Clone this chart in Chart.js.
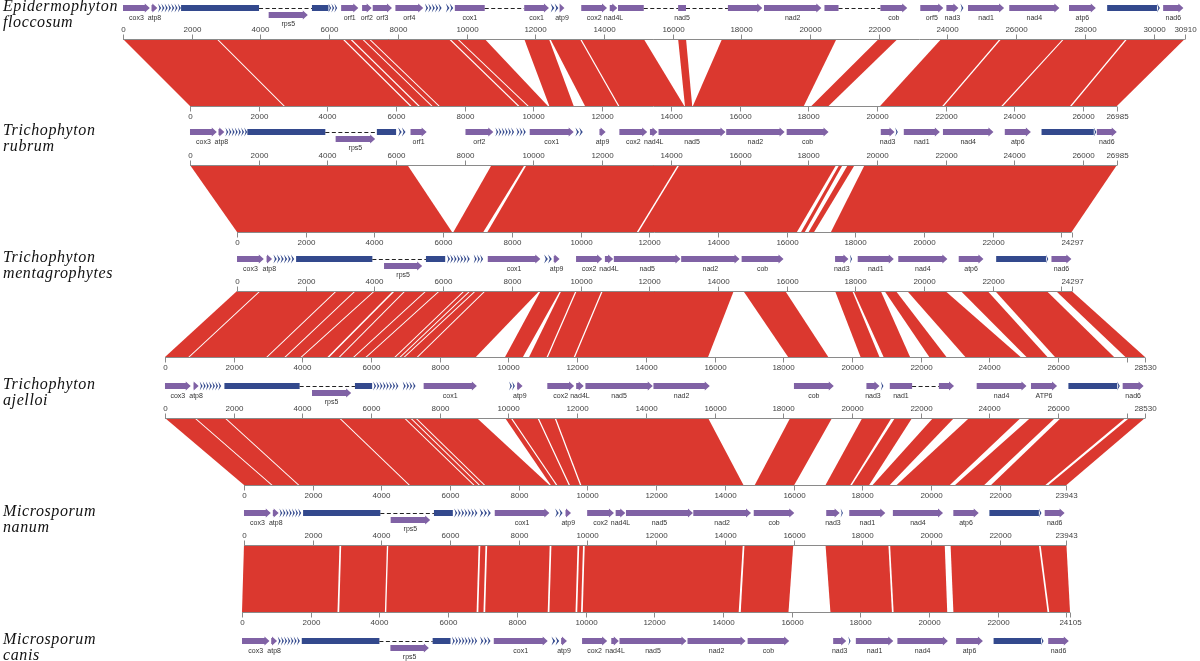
<!DOCTYPE html>
<html>
<head>
<meta charset="utf-8">
<script src="https://cdn.jsdelivr.net/npm/chart.js@4.4.1/dist/chart.umd.min.js"></script>
<style>
  html, body { margin: 0; padding: 0; background: #fff; }
  #wrap { width: 1200px; height: 661px; position: relative; }
</style>
</head>
<body>
<div id="wrap"><canvas id="chart"></canvas></div>
<script>
// Genomas (nombre en dos líneas) y longitudes en pb
const genomeNames = [
  ['Epidermophyton', 'floccosum'],
  ['Trichophyton', 'rubrum'],
  ['Trichophyton', 'mentagrophytes'],
  ['Trichophyton', 'ajelloi'],
  ['Microsporum', 'nanum'],
  ['Microsporum', 'canis']
];
const genomeLengths = [30910, 26985, 24297, 28530, 23943, 24105];
const tickStep = 2000;

// Genes: [tipo, inicio, fin, etiqueta]
// g = gen con flecha, b = exón sin flecha, r = ARNr (azul), t = ARNt (chevrones), d = intrón, l = gen en la fila inferior
const genesEF = [
  ['g',0,780,'cox3'],['g',830,1000,'atp8'],['t',1020,1690],['r',1690,3960],['d',3960,5500],['l',4240,5380,'rps5'],
  ['r',5500,5980],['t',5980,6240],['g',6350,6850,'orf1'],['g',6960,7240,'orf2'],['g',7270,7830,'orf3'],['g',7930,8740,'orf4'],
  ['t',8790,9280],['t',9400,9620],['b',9660,10530,'cox1'],['d',10530,11680],['g',11680,12400,'cox1'],['t',12450,12680],
  ['g',12710,12850,'atp9'],['g',13340,14090,'cox2'],['g',14170,14390,'nad4L'],['b',14410,15160],['d',15160,16160],
  ['b',16160,16390,'nad5'],['d',16390,17610],['g',17610,18610],['g',18660,20330,'nad2'],['b',20420,20830],['d',20830,22050],
  ['g',22050,22830,'cob'],['g',23210,23880,'orf5'],['g',23970,24320,'nad3'],['t',24380,24470],['g',24600,25650,'nad1'],
  ['g',25800,27260,'nad4'],['g',27540,28320,'atp6'],['r',28650,30100],['t',30100,30190],['g',30280,30870,'nad6']
];
const genesTR = [
  ['g',0,780,'cox3'],['g',830,1000,'atp8'],['t',1030,1670],['r',1670,3940],['d',3940,5440],['l',4240,5390,'rps5'],
  ['r',5440,6000],['t',6060,6280],['g',6420,6890,'orf1'],['g',8020,8830,'orf2'],['t',8890,9440],['t',9500,9780],
  ['g',9890,11170,'cox1'],['t',11220,11440],['g',11920,12100,'atp9'],['g',12500,13310,'cox2'],['g',13390,13610,'nad4L'],
  ['g',13640,15590,'nad5'],['g',15610,17310,'nad2'],['g',17370,18590,'cob'],['g',20110,20510,'nad3'],['t',20530,20610],
  ['g',20780,21830,'nad1'],['g',21920,23390,'nad4'],['g',23720,24480,'atp6'],['r',24790,26310],['t',26310,26390],
  ['g',26400,26980,'nad6']
];
const genesTM = [
  ['g',0,780,'cox3'],['g',860,1020,'atp8'],['t',1060,1670],['r',1720,3940],['d',3940,5500],['l',4280,5390,'rps5'],
  ['r',5500,6060],['t',6110,6780],['t',6890,7170],['g',7300,8830,'cox1'],['t',8940,9170],['g',9220,9390,'atp9'],
  ['g',9870,10630,'cox2'],['g',10710,10950,'nad4L'],['g',10970,12910,'nad5'],['g',12930,14630,'nad2'],['g',14690,15910,'cob'],
  ['g',17410,17800,'nad3'],['t',17840,17910],['g',18070,19120,'nad1'],['g',19250,20680,'nad4'],['g',21010,21730,'atp6'],
  ['r',22100,23550],['t',23550,23620],['g',23710,24290,'nad6']
];
const genesTA = [
  ['g',0,750,'cox3'],['g',830,980,'atp8'],['t',1010,1640],['r',1730,3920],['d',3920,5530],['l',4280,5420,'rps5'],
  ['r',5530,6030],['t',6060,6800],['t',6920,7300],['g',7530,9080,'cox1'],['t',10020,10190],['g',10250,10410,'atp9'],
  ['g',11130,11910,'cox2'],['g',11970,12190,'nad4L'],['g',12240,14200,'nad5'],['g',14220,15860,'nad2'],['g',18310,19470,'cob'],
  ['g',20420,20800,'nad3'],['t',20840,20920],['b',21100,21750,'nad1'],['d',21750,22530],['g',22530,22970],
  ['g',23630,25080,'nad4'],['g',25210,25970,'ATP6'],['r',26300,27720],['t',27720,27800],['g',27880,28490,'nad6']
];
const genesMN = [
  ['g',0,780,'cox3'],['g',840,1010,'atp8'],['t',1030,1670],['r',1720,3970],['d',3970,5530],['l',4270,5420,'rps5'],
  ['r',5530,6080],['t',6120,6800],['t',6860,7190],['g',7300,8890,'cox1'],['t',9060,9280],['g',9360,9520,'atp9'],
  ['g',9990,10770,'cox2'],['g',10820,11100,'nad4L'],['g',11120,13070,'nad5'],['g',13080,14760,'nad2'],['g',14840,16020,'cob'],
  ['g',16950,17340,'nad3'],['t',17370,17440],['g',17620,18670,'nad1'],['g',18890,20350,'nad4'],['g',20650,21390,'atp6'],
  ['r',21700,23140],['t',23140,23220],['g',23310,23890,'nad6']
];
const genesMC = [
  ['g',0,800,'cox3'],['g',850,1020,'atp8'],['t',1040,1690],['r',1740,4000],['d',4000,5550],['l',4320,5440,'rps5'],
  ['r',5550,6070],['t',6110,6850],['t',6930,7240],['g',7330,8900,'cox1'],['t',9010,9240],['g',9290,9460,'atp9'],
  ['g',9900,10630,'cox2'],['g',10750,10970,'nad4L'],['g',10990,12940,'nad5'],['g',12970,14660,'nad2'],['g',14720,15930,'cob'],
  ['g',17210,17590,'nad3'],['t',17650,17720],['g',17870,18960,'nad1'],['g',19080,20550,'nad4'],['g',20790,21570,'atp6'],
  ['r',21880,23260],['t',23260,23340],['g',23470,24070,'nad6']
];
const genomeGenes = [genesEF, genesTR, genesTM, genesTA, genesMN, genesMC];

// Bloques sinténicos: [inicio arriba, fin arriba, inicio abajo, fin abajo]
const blocksEF_TR = [
  [0,2720,0,2720],[2760,6380,2760,6400],[6430,6600,6450,6640],[6650,6950,6690,7020],[6990,7150,7060,7230],
  [7190,9480,7270,9540],[9530,9720,9590,9820],[9760,10530,9860,10420],[11680,12400,10460,11170],[12440,13300,11500,12460],
  [13340,15160,12500,14390],[16160,16390,14410,14620],[17440,20770,14640,17870],[22000,22550,18090,18590],
  [23820,25520,20090,21900],[25570,27360,21950,23620],[27400,29190,23670,25620],[29240,30910,25670,26985]
];
const blocksTR_TM = [
  [0,6330,0,6260],[8780,9740,6300,7170],[9800,14200,7290,11640],[14250,18810,11690,16300],
  [18900,19000,16420,16530],[19150,19350,16640,16800],[19640,26985,17290,24297]
];
const blocksTM_TA = [
  [0,650,0,680],[690,2870,720,2950],[2910,3420,2990,3480],[3460,3980,3520,3950],[4020,4540,3990,4730],
  [4600,4870,4790,5060],[4910,5480,5100,5480],[5520,5870,5520,5840],[5910,6590,5880,6680],[6630,6760,6720,6830],
  [6800,6920,6870,6950],[6960,7200,6990,7330],[7240,8800,7370,9050],[8840,9400,9900,10420],[9440,9850,10600,11110],
  [9890,10610,11150,11900],[10650,14460,11940,15810],[14740,15960,18140,19310],[17410,17910,20250,20800],
  [17950,18740,20920,21690],[18850,19180,22250,22750],[19510,20620,23300,24910],[21070,21850,25080,25690],
  [22070,23570,25910,27630],[23840,24297,27960,28530]
];
const blocksTA_MN = [
  [0,850,0,790],[890,1730,830,1570],[1770,5060,1610,4790],[5100,6950,4830,6670],[6990,7130,6710,6830],
  [7170,7280,6870,6980],[7320,9080,7020,8890],[9900,10060,8930,9080],[10100,10840,9120,9450],[10880,11340,9490,9780],
  [11380,15810,9820,14540],[18200,19420,14870,16020],[20300,21150,16930,17650],[21250,21750,17700,18200],
  [22360,22970,18300,18800],[23410,24910,19000,20550],[25190,25910,20700,21550],[26080,27960,21750,23330],
  [28070,28530,23420,23943]
];
const blocksMN_MC = [
  [0,2780,0,2780],[2830,4160,2830,4160],[4200,6830,4200,6830],[6880,7030,6880,7030],[7080,8900,7080,8900],
  [8950,9710,8950,9710],[9760,9870,9760,9870],[9920,14520,9920,14460],[14570,15990,14520,15910],
  [16930,18760,17130,18920],[18810,20400,18970,20530],[20570,23140,20710,23450],[23190,23943,23500,24105]
];
const genomeBlocks = [blocksEF_TR, blocksTR_TM, blocksTM_TA, blocksTA_MN, blocksMN_MC];

// Disposición (unidades de las escalas)
const X_MAX = 34934;                                   // ancho total en pb
const rowOffset = [3581, 5531, 6900, 4803, 7103, 7045];
const geneY = [8, 132, 259, 386, 513, 641];
const blockTop = [39, 165, 291, 418, 545];
const blockBottom = [106, 232, 357, 485, 612];

const RED = '#db382f';
const PURPLE = '#8062a5';
const BLUE = '#33498d';
const AXIS = '#8a8a8a';

// Plugin que dibuja genomas, ejes y bloques con las escalas del gráfico
const syntenyPlugin = {
  id: 'synteny',
  afterDatasetsDraw(chart) {
    const ctx = chart.ctx;
    const xs = chart.scales.x, ys = chart.scales.y;
    const px = (g, bp) => xs.getPixelForValue(rowOffset[g] + bp);
    const py = v => ys.getPixelForValue(v);

    ctx.save();

    // Bloques rojos
    ctx.fillStyle = RED;
    genomeBlocks.forEach((blocks, k) => {
      const yt = py(blockTop[k]), yb = py(blockBottom[k]);
      blocks.forEach(b => {
        ctx.beginPath();
        ctx.moveTo(px(k, b[0]), yt);
        ctx.lineTo(px(k, b[1]), yt);
        ctx.lineTo(px(k + 1, b[3]), yb);
        ctx.lineTo(px(k + 1, b[2]), yb);
        ctx.closePath();
        ctx.fill();
      });
    });

    // Ejes con marcas y números
    function drawAxis(g, lineV, dir) {
      const len = genomeLengths[g];
      const y = Math.round(py(lineV)) + 0.5;
      ctx.strokeStyle = AXIS;
      ctx.lineWidth = 1;
      ctx.beginPath();
      ctx.moveTo(px(g, 0), y);
      ctx.lineTo(px(g, len), y);
      ctx.stroke();
      const ticks = [];
      for (let t = 0; t < len; t += tickStep) ticks.push(t);
      ticks.push(len);
      ctx.font = '8px "Liberation Sans", Arial, sans-serif';
      ctx.fillStyle = '#444';
      ctx.textAlign = 'center';
      ctx.textBaseline = 'middle';
      ticks.forEach(t => {
        const x = Math.round(px(g, t)) + 0.5;
        ctx.beginPath();
        ctx.moveTo(x, y);
        ctx.lineTo(x, y + dir * 5);
        ctx.stroke();
        if (t !== len && len - t < 700) return;
        ctx.fillText(String(t), x, y + dir * 10);
      });
    }
    genomeBlocks.forEach((blocks, k) => {
      drawAxis(k, blockTop[k], -1);
      drawAxis(k + 1, blockBottom[k], 1);
    });

    // Genes
    function arrow(x0, x1, y, color, head) {
      const hl = head ? Math.min(5, x1 - x0) : 0;
      ctx.fillStyle = color;
      ctx.beginPath();
      ctx.moveTo(x0, y - 3);
      ctx.lineTo(x1 - hl, y - 3);
      if (head) {
        ctx.lineTo(x1 - hl, y - 4.5);
        ctx.lineTo(x1, y);
        ctx.lineTo(x1 - hl, y + 4.5);
      }
      ctx.lineTo(x1 - hl, y + 3);
      ctx.lineTo(x0, y + 3);
      ctx.closePath();
      ctx.fill();
    }
    function chevrons(x0, x1, y, n) {
      const w = (x1 - x0) / n;
      ctx.fillStyle = BLUE;
      for (let i = 0; i < n; i++) {
        const a = x0 + i * w, cw = Math.max(w * 0.95, 1.6);
        ctx.beginPath();
        ctx.moveTo(a, y - 4.5);
        ctx.lineTo(a + cw, y);
        ctx.lineTo(a, y + 4.5);
        ctx.lineTo(a + cw * 0.45, y);
        ctx.closePath();
        ctx.fill();
      }
    }
    genomeGenes.forEach((genes, g) => {
      const yc = py(geneY[g]);
      genes.forEach(f => {
        const [type, s, e, label] = f;
        const x0 = px(g, s), x1 = px(g, e);
        let ly = yc + 10;
        if (type === 'g') arrow(x0, x1, yc, PURPLE, true);
        else if (type === 'b') arrow(x0, x1, yc, PURPLE, false);
        else if (type === 'r') arrow(x0, x1, yc, BLUE, false);
        else if (type === 'l') { arrow(x0, x1, yc + 7, PURPLE, true); ly = yc + 16; }
        else if (type === 't') chevrons(x0, x1, yc, Math.max(1, Math.round((e - s) / 95)));
        else if (type === 'd') {
          ctx.strokeStyle = '#222';
          ctx.lineWidth = 1.2;
          ctx.setLineDash([4, 2.5]);
          ctx.beginPath();
          ctx.moveTo(x0, Math.round(yc) + 0.5);
          ctx.lineTo(x1, Math.round(yc) + 0.5);
          ctx.stroke();
          ctx.setLineDash([]);
        }
        if (label) {
          ctx.font = '7px "Liberation Sans", Arial, sans-serif';
          ctx.fillStyle = '#333';
          ctx.textAlign = 'center';
          ctx.textBaseline = 'middle';
          ctx.fillText(label, (x0 + x1) / 2, ly);
        }
      });
    });

    // Nombres de especies
    ctx.font = 'italic 16px "Liberation Serif", "DejaVu Serif", serif';
    if ('letterSpacing' in ctx) ctx.letterSpacing = '0.6px';
    ctx.fillStyle = '#111';
    ctx.textAlign = 'left';
    ctx.textBaseline = 'middle';
    genomeNames.forEach((name, g) => {
      ctx.fillText(name[0], 3, py(geneY[g] - 1));
      ctx.fillText(name[1], 3, py(geneY[g] + 15));
    });

    ctx.restore();
  }
};

new Chart(document.getElementById('chart'), {
  type: 'scatter',
  data: { datasets: [{ label: 'genomas', data: [] }] },
  options: {
    responsive: true,
    maintainAspectRatio: false,
    animation: false,
    layout: { padding: 0 },
    scales: {
      x: { type: 'linear', min: 0, max: X_MAX, display: false },
      y: { type: 'linear', min: 0, max: 661, reverse: true, display: false }
    },
    plugins: {
      legend: { display: false },
      tooltip: { enabled: false }
    }
  },
  plugins: [syntenyPlugin]
});
</script>
</body>
</html>
